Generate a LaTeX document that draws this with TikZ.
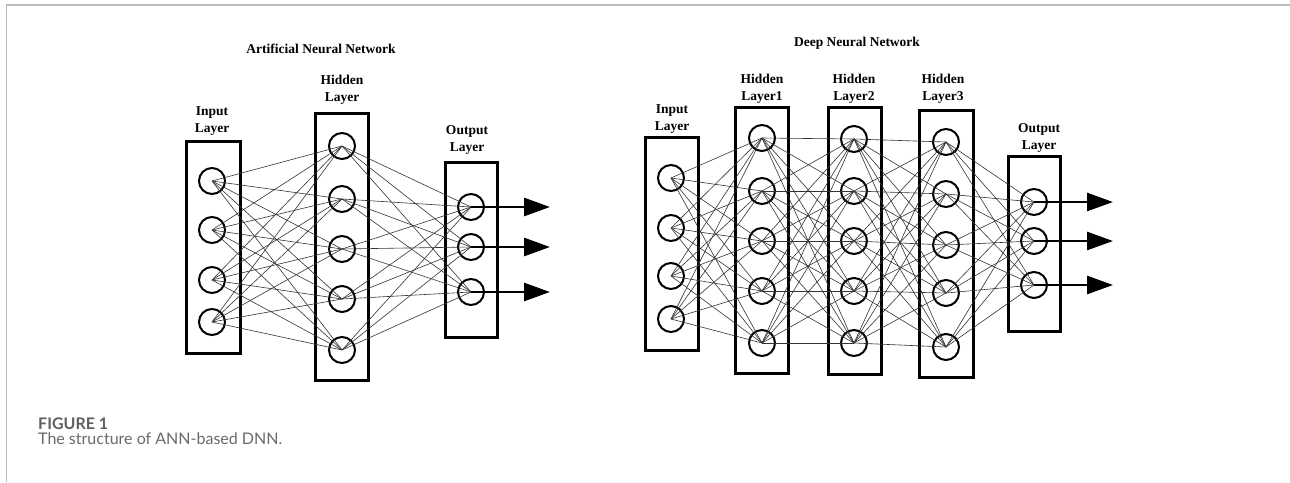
\documentclass[tikz,border=0pt]{standalone}
\usepackage{fontspec}
\setmainfont{Liberation Serif}
\newfontfamily\capfont{Lato}
\usetikzlibrary{arrows.meta}
\definecolor{framegray}{RGB}{190,190,190}
\definecolor{capgray}{RGB}{95,95,95}
\definecolor{textgray}{RGB}{105,105,105}
\begin{document}
\begin{tikzpicture}[x=1pt,y=-1pt,
  neuron/.style={circle,draw,line width=2pt,minimum size=26pt,inner sep=0pt},
  layerbox/.style={draw,line width=3pt,inner sep=0pt},
  link/.style={draw=black!80,line width=0.6pt},
  outarrow/.style={line width=2.8pt,-{Triangle[length=26pt,width=18pt]}},
  lbl/.style={font=\bfseries\fontsize{13.5}{17}\selectfont,align=center,inner sep=0pt},
]
\useasboundingbox (0,0) rectangle (1290,482);

% page frame
\draw[framegray,line width=1.5pt] (6.5,482) -- (6.5,5) -- (1290,5);

% ---------- Artificial Neural Network ----------
\node[lbl] (atitle) at (321,49) {Artificial Neural Network};

\node[layerbox,minimum width=54pt,minimum height=212pt] (aibox) at (213,247) {};
\node[layerbox,minimum width=53pt,minimum height=267pt] (ahbox) at (341.5,246.5) {};
\node[layerbox,minimum width=52pt,minimum height=175pt] (aobox) at (471,249.5) {};

\node[lbl] (ailbl) at (212,121) {Input\\Layer};
\node[lbl] (ahlbl) at (342,90) {Hidden\\Layer};
\node[lbl] (aolbl) at (467,140) {Output\\Layer};

\foreach \y [count=\k] in {181,230,280,322} \node[neuron] (ai\k) at (212,\y) {};
\foreach \y [count=\k] in {146,199,249,299,350} \node[neuron] (ah\k) at (342,\y) {};
\foreach \y [count=\k] in {207,247,292} \node[neuron] (ao\k) at (471,\y) {};

\foreach \i in {1,...,4} \foreach \j in {1,...,5} \draw[link] (ai\i.center) -- (ah\j.center);
\foreach \i in {1,...,5} \foreach \j in {1,...,3} \draw[link] (ah\i.center) -- (ao\j.center);

\foreach \y [count=\k] in {207,247,292} {
  \coordinate (aend\k) at (550,\y);
  \draw[outarrow] (ao\k.center) -- (aend\k);
}

% ---------- Deep Neural Network ----------
\node[lbl] (dtitle) at (857,43) {Deep Neural Network};

\node[layerbox,minimum width=53pt,minimum height=213pt] (dibox) at (671.5,243.5) {};
\node[layerbox,minimum width=53pt,minimum height=266pt] (dabox) at (761.5,240) {};
\node[layerbox,minimum width=53pt,minimum height=267pt] (dbbox) at (854.5,240.5) {};
\node[layerbox,minimum width=54pt,minimum height=267pt] (dcbox) at (946,243.5) {};
\node[layerbox,minimum width=52pt,minimum height=175pt] (dobox) at (1034,243.5) {};

\node[lbl] (dilbl) at (672,119) {Input\\Layer};
\node[lbl] (dalbl) at (762,88.5) {Hidden\\Layer1};
\node[lbl] (dblbl) at (854,88.5) {Hidden\\Layer2};
\node[lbl] (dclbl) at (943,89) {Hidden\\Layer3};
\node[lbl] (dolbl) at (1039,138) {Output\\Layer};

\foreach \y [count=\k] in {178,228,276,319} \node[neuron] (di\k) at (671,\y) {};
\foreach \y [count=\k] in {138,191,241,291,343} \node[neuron] (da\k) at (762,\y) {};
\foreach \y [count=\k] in {139,191,241,291,343} \node[neuron] (db\k) at (854,\y) {};
\foreach \y [count=\k] in {142,194,245,293,347} \node[neuron] (dc\k) at (946,\y) {};
\foreach \y [count=\k] in {202,241,285} \node[neuron] (do\k) at (1034,\y) {};

\foreach \i in {1,...,4} \foreach \j in {1,...,5} \draw[link] (di\i.center) -- (da\j.center);
\foreach \i in {1,...,5} \foreach \j in {1,...,5} \draw[link] (da\i.center) -- (db\j.center);
\foreach \i in {1,...,5} \foreach \j in {1,...,5} \draw[link] (db\i.center) -- (dc\j.center);
\foreach \i in {1,...,5} \foreach \j in {1,...,3} \draw[link] (dc\i.center) -- (do\j.center);

\foreach \y [count=\k] in {202,241,285} {
  \coordinate (dend\k) at (1113,\y);
  \draw[outarrow] (do\k.center) -- (dend\k);
}

% ---------- caption ----------
\node[anchor=base west,inner sep=0pt,text=capgray,
      font=\capfont\bfseries\fontsize{16}{19}\selectfont] (figlbl) at (38,429) {FIGURE 1};
\node[anchor=base west,inner sep=0pt,text=textgray,
      font=\capfont\fontsize{16}{19}\selectfont] (figtxt) at (38,444) {The structure of ANN-based DNN.};
\end{tikzpicture}
\end{document}
